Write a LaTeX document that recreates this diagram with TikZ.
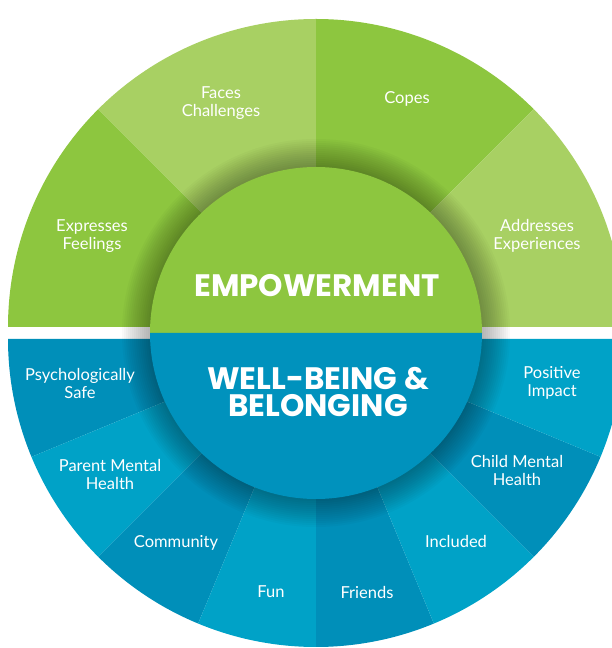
\documentclass[tikz,border=0pt]{standalone}
\usepackage{fontspec}
\setmainfont{Lato}
\newfontfamily\headfont{Poppins}
\definecolor{gmid}{RGB}{141,198,63}
\definecolor{glight}{RGB}{168,208,99}
\definecolor{bdark}{RGB}{0,143,185}
\definecolor{blight}{RGB}{0,162,199}
\definecolor{cblue}{RGB}{0,146,189}
\tikzset{
  lbl/.style={text=white, align=center, font=\fontsize{16.5}{18}\selectfont},
  head/.style={text=white, align=center, font=\headfont\bfseries\fontsize{31}{27}\selectfont}
}
\begin{document}
\begin{tikzpicture}[x=1pt,y=1pt]
        \clip (0,0) rectangle (612,648);
        \coordinate (up) at (316,321);
        \coordinate (lo) at (316,309);
        \coordinate (mid) at (316,315);
        % outer ring
        \foreach \s/\c in {180/gmid,135/glight,90/gmid,45/glight}
            \fill[\c] (up) -- ++(\s:308) arc[start angle=\s,delta angle=-45,radius=308] -- cycle;
        \foreach \s/\c in {180/bdark,202.5/blight,225/bdark,247.5/blight,270/bdark,292.5/blight,315/bdark,337.5/blight}
            \fill[\c] (lo) -- ++(\s:308) arc[start angle=\s,delta angle=22.5,radius=308] -- cycle;
        % shadow round the hub
        \foreach \r in {0,...,14}
            \fill[black,opacity=0.022] (mid) circle[radius=166+2*\r];
        % hub
        \fill[gmid] (mid) ++(0:166) arc[start angle=0,end angle=180,radius=166] -- cycle;
        \fill[cblue] (mid) ++(180:166) arc[start angle=180,end angle=360,radius=166] -- cycle;
        \node[head] (emp) at (317,362) {EMPOWERMENT};
        \node[head] (well) at (318,256) {WELL-BEING \&\\BELONGING};
        \node[lbl] (faces) at (221,545) {Faces\\Challenges};
        \node[lbl] (copes) at (407,549) {Copes};
        \node[lbl] (expr) at (92,412) {Expresses\\Feelings};
        \node[lbl] (addr) at (537,412) {Addresses\\Experiences};
        \node[lbl] (psy) at (80,265) {Psychologically\\Safe};
        \node[lbl] (pos) at (552,265) {Positive\\Impact};
        \node[lbl] (par) at (110,174) {Parent Mental\\Health};
        \node[lbl] (child) at (517,178) {Child Mental\\Health};
        \node[lbl] (comm) at (176,105) {Community};
        \node[lbl] (incl) at (456,107) {Included};
        \node[lbl] (fun) at (271,56) {Fun};
        \node[lbl] (fri) at (367,56) {Friends};
\end{tikzpicture}
\end{document}
